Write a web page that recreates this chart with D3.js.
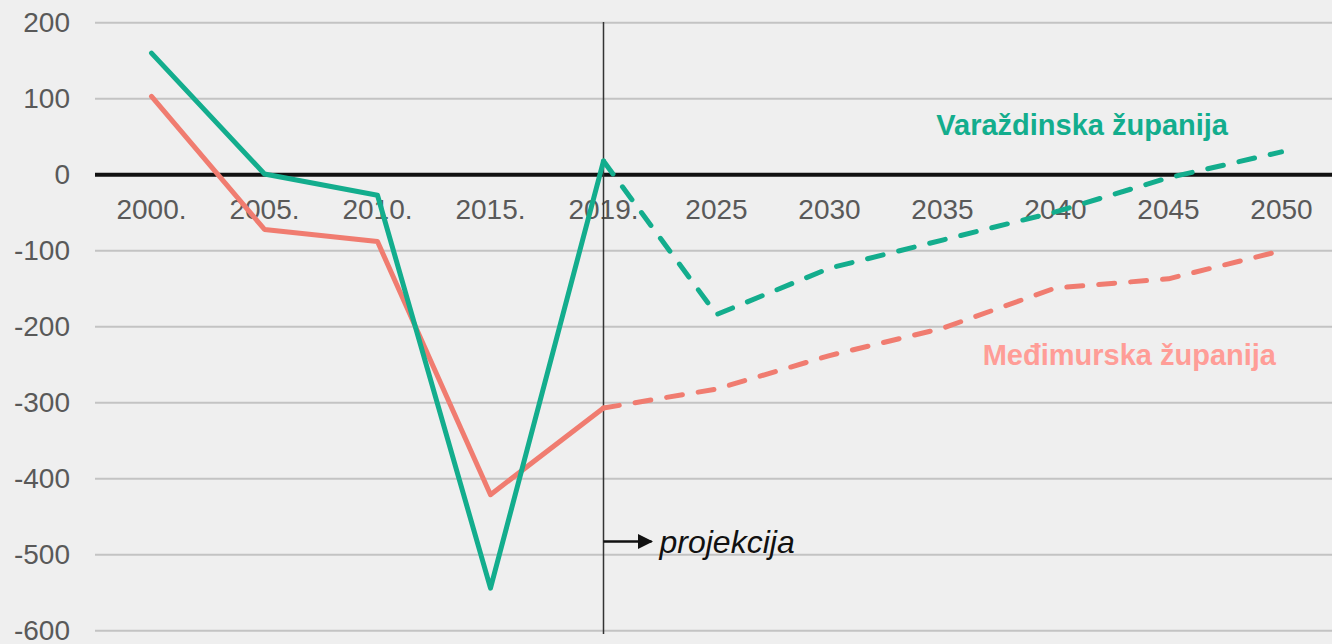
<!DOCTYPE html>
<html>
<head>
<meta charset="utf-8">
<script src="https://cdn.jsdelivr.net/npm/d3@7"></script>
<style>
  html, body { margin: 0; padding: 0; background: #efefef; }
  svg { display: block; font-family: "Liberation Sans", Arial, sans-serif; }
</style>
</head>
<body>
<div id="grafico"></div>
<script>
// godine (kategorije na osi x)
const godine = ["2000.", "2005.", "2010.", "2015.", "2019.", "2025", "2030", "2035", "2040", "2045", "2050"];
// Varaždinska županija
const varazdinska = [160, 1, -27, -544, 18, -184, -123, -86, -49, -4, 30];
// Međimurska županija
const medimurska = [103, -72, -88, -421, -307, -282, -238, -202, -149, -137, -100];
const yTicks = [200, 100, 0, -100, -200, -300, -400, -500, -600];
const zadnjaStvarna = "2019.";

const sirina = 1332;
const visina = 644;

const svg = d3.select("#grafico")
    .append("svg")
    .attr("width", sirina)
    .attr("height", visina);

const x = d3.scaleBand()
    .domain(godine)
    .range([95, 1338]);

const y = d3.scaleLinear()
    .domain([-600, 200])
    .range([630.7, 22.7]);

const cx = g => x(g) + x.bandwidth() / 2;

// mreža
svg.append("g")
    .selectAll("line")
    .data(yTicks.filter(d => d !== 0))
    .enter()
    .append("line")
    .attr("x1", 95)
    .attr("x2", sirina)
    .attr("y1", d => y(d))
    .attr("y2", d => y(d))
    .attr("stroke", "#c3c3c3")
    .attr("stroke-width", 2);

// os y
const osY = svg.append("g")
    .attr("transform", "translate(70,0)")
    .call(d3.axisLeft(y).tickValues(yTicks).tickSize(0).tickPadding(0).tickFormat(d => String(d)));
osY.select(".domain").remove();
osY.selectAll("text")
    .attr("fill", "#595959")
    .style("font-size", "28px")
    .style("font-family", "Liberation Sans, Arial, sans-serif");

// nulta linija
svg.append("line")
    .attr("x1", 95)
    .attr("x2", sirina)
    .attr("y1", y(0))
    .attr("y2", y(0))
    .attr("stroke", "#111")
    .attr("stroke-width", 4);

// os x (oznake ispod nule)
const osX = svg.append("g")
    .attr("transform", `translate(0,${y(0)})`)
    .call(d3.axisBottom(x).tickSize(0));
osX.select(".domain").remove();
osX.selectAll("text")
    .attr("y", 44.5)
    .attr("dy", null)
    .attr("fill", "#595959")
    .style("font-size", "28px")
    .style("font-family", "Liberation Sans, Arial, sans-serif");

// vertikalna linija projekcije
svg.append("line")
    .attr("x1", cx(zadnjaStvarna))
    .attr("x2", cx(zadnjaStvarna))
    .attr("y1", 22)
    .attr("y2", 634)
    .attr("stroke", "#333")
    .attr("stroke-width", 1.5);

const defs = svg.append("defs");
defs.append("marker")
    .attr("id", "strelica")
    .attr("viewBox", "0 0 10 10")
    .attr("refX", 9)
    .attr("refY", 5)
    .attr("markerWidth", 6)
    .attr("markerHeight", 6)
    .attr("markerUnits", "strokeWidth")
    .attr("orient", "auto")
    .append("path")
    .attr("d", "M0,0 L10,5 L0,10 z")
    .attr("fill", "#111");

svg.append("line")
    .attr("x1", cx(zadnjaStvarna))
    .attr("x2", cx(zadnjaStvarna) + 48)
    .attr("y1", 541.5)
    .attr("y2", 541.5)
    .attr("stroke", "#111")
    .attr("stroke-width", 2.5)
    .attr("marker-end", "url(#strelica)");

svg.append("text")
    .attr("x", cx(zadnjaStvarna) + 56)
    .attr("y", 553)
    .attr("fill", "#111")
    .style("font-size", "32px")
    .style("font-style", "italic")
    .text("projekcija");

// linije
const linija = d3.line()
    .x(d => cx(d.g))
    .y(d => y(d.v));

const idx = godine.indexOf(zadnjaStvarna);
function crtaj(vrijednosti, boja) {
    const tocke = godine.map((g, i) => ({ g: g, v: vrijednosti[i] }));
    svg.append("path")
        .datum(tocke.slice(0, idx + 1))
        .attr("d", linija)
        .attr("fill", "none")
        .attr("stroke", boja)
        .attr("stroke-width", 5)
        .attr("stroke-linejoin", "round")
        .attr("stroke-linecap", "round");
    svg.append("path")
        .datum(tocke.slice(idx))
        .attr("d", linija)
        .attr("fill", "none")
        .attr("stroke", boja)
        .attr("stroke-width", 5)
        .attr("stroke-dasharray", "16,16")
        .attr("stroke-linejoin", "round")
        .attr("stroke-linecap", "round");
}
crtaj(medimurska, "#f07c70");
crtaj(varazdinska, "#13ad8d");

// nazivi serija
svg.append("text")
    .attr("x", 1228)
    .attr("y", 135)
    .attr("text-anchor", "end")
    .attr("fill", "#13ad8d")
    .style("font-size", "29px")
    .style("font-weight", "bold")
    .text("Varaždinska županija");

svg.append("text")
    .attr("x", 1276)
    .attr("y", 365)
    .attr("text-anchor", "end")
    .attr("fill", "#ff9d97")
    .style("font-size", "29px")
    .style("font-weight", "bold")
    .text("Međimurska županija");
</script>
</body>
</html>
